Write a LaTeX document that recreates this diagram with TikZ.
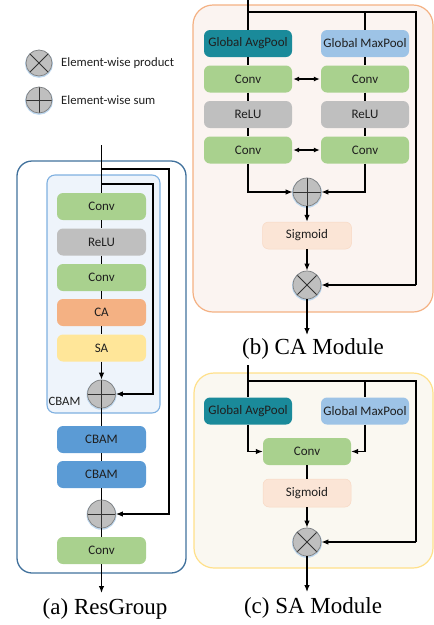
\documentclass[tikz,border=0pt]{standalone}
\usepackage{fontspec}
\setmainfont{Liberation Serif}
\setsansfont{Carlito}
\usetikzlibrary{arrows.meta,calc}
\definecolor{cgreen}{HTML}{A9D18E}
\definecolor{cgray}{HTML}{BFBFBF}
\definecolor{corange}{HTML}{F4B183}
\definecolor{cyellow}{HTML}{FFE699}
\definecolor{cblue}{HTML}{5B9BD5}
\definecolor{cteal}{HTML}{1A8A9A}
\definecolor{clblue}{HTML}{9DC3E6}
\definecolor{cpeach}{HTML}{FBE5D6}
\definecolor{cpeachb}{HTML}{F8D9C4}
\definecolor{cdarkblue}{HTML}{41719C}
\definecolor{cbamfill}{HTML}{EEF4FB}
\definecolor{cbamdraw}{HTML}{7FB0E0}
\definecolor{cafill}{HTML}{FBF4F1}
\definecolor{sadraw}{HTML}{FFE08A}
\definecolor{safill}{HTML}{FAF8F1}
\definecolor{circfill}{HTML}{BFBFBF}
\definecolor{circdraw}{HTML}{7F7F7F}
\definecolor{glow}{HTML}{BDD7EE}
\begin{document}
\begin{tikzpicture}[x=1pt,y=-1pt,
  blk/.style={rounded corners=6pt, minimum width=89pt, minimum height=27pt, inner sep=0pt,
    font=\sffamily\fontsize{13}{15}\selectfont, text=black!88},
  circ/.style={circle, draw=circdraw, fill=circfill, line width=0.7pt, minimum size=28pt, inner sep=0pt,
    preaction={draw=glow, line width=2pt, transform canvas={yshift=-0.8pt}}},
  prodc/.style={circ, path picture={\draw[line width=0.8pt, black!80]
     (path picture bounding box.north east) -- (path picture bounding box.south west)
     (path picture bounding box.north west) -- (path picture bounding box.south east);}},
  sumc/.style={circ, path picture={\draw[line width=0.8pt, black!80]
     (path picture bounding box.north) -- (path picture bounding box.south)
     (path picture bounding box.west) -- (path picture bounding box.east);}},
  conn/.style={line width=1.2pt, black},
  arr/.style={conn, -{Latex[length=7pt,width=5.5pt]}},
  darr/.style={conn, {Latex[length=6pt,width=5pt]}-{Latex[length=6pt,width=5pt]}},
  lgd/.style={font=\sffamily\fontsize{12.7}{15}\selectfont, text=black!88, anchor=west, inner sep=0pt},
  captxt/.style={font=\fontsize{23}{26}\selectfont, inner sep=0pt}
]
\useasboundingbox (0,0) rectangle (434,625);

% ---------- legend ----------
\node[prodc, minimum size=26pt] (lp) at (39,63) {};
\node[lgd] (lpt) at (61,63) {Element-wise product};
\node[sumc, minimum size=26pt] (ls) at (39,100) {};
\node[lgd] (lst) at (61,100) {Element-wise sum};

% ---------- (a) ResGroup ----------
\draw[cdarkblue, line width=1.3pt, rounded corners=15pt] (17,161) rectangle (186,573);
\draw[cbamdraw, fill=cbamfill, line width=1.1pt, rounded corners=8pt] (47,175) rectangle (160,413);

\coordinate (ain) at (101.5,145);
\node[blk, fill=cgreen] (r1) at (101.5,206.5) {Conv};
\node[blk, fill=cgray] (r2) at (101.5,242) {ReLU};
\node[blk, fill=cgreen] (r3) at (101.5,277.5) {Conv};
\node[blk, fill=corange] (r4) at (101.5,312.5) {CA};
\node[blk, fill=cyellow] (r5) at (101.5,348) {SA};
\node[sumc] (s1) at (101.5,394) {};
\node[lgd, anchor=center] (cbl) at (64.5,401) {CBAM};
\node[blk, fill=cblue] (r6) at (101.5,439.5) {CBAM};
\node[blk, fill=cblue] (r7) at (101.5,474.5) {CBAM};
\node[sumc] (s2) at (101.5,514) {};
\node[blk, fill=cgreen] (r8) at (101.5,550.5) {Conv};
\coordinate (aout) at (101.5,593);
\node[captxt] (la) at (105,609) {(a) ResGroup};

\coordinate (ao1) at (101.5,169);
\coordinate (ao2) at (169,169);
\coordinate (ao3) at (169,514);
\coordinate (ai1) at (101.5,184);
\coordinate (ai2) at (153,184);
\coordinate (ai3) at (153,394);

\draw[conn] (ain) -- (r1.north);
\draw[conn] (r1) -- (r2);
\draw[conn] (r2) -- (r3);
\draw[conn] (r3) -- (r4);
\draw[conn] (r4) -- (r5);
\draw[arr] (r5.south) -- (s1.north);
\draw[conn] (s1.south) -- (r6.north);
\draw[conn] (r6) -- (r7);
\draw[conn] (r7.south) -- (s2.north);
\draw[conn] (s2.south) -- (r8.north);
\draw[arr] (r8.south) -- (aout);
\draw[arr] (ao1) -- (ao2) -- (ao3) -- (s2.east);
\draw[arr] (ai1) -- (ai2) -- (ai3) -- (s1.east);

% ---------- (b) CA Module ----------
\draw[corange, fill=cafill, line width=1.2pt, rounded corners=20pt] (193,5) rectangle (433,312);

\coordinate (bin) at (248,0);
\coordinate (bj1) at (248,12);
\coordinate (bj2) at (365,12);
\coordinate (bj3) at (416,12);
\node[blk, fill=cteal, minimum width=88pt] (c1) at (248,43.5) {Global AvgPool};
\node[blk, fill=clblue, minimum width=88pt] (c2) at (365,43.5) {Global MaxPool};
\node[blk, fill=cgreen, minimum width=88pt] (c3) at (248,79) {Conv};
\node[blk, fill=cgreen, minimum width=88pt] (c4) at (365,79) {Conv};
\node[blk, fill=cgray, minimum width=88pt] (c5) at (248,114.5) {ReLU};
\node[blk, fill=cgray, minimum width=88pt] (c6) at (365,114.5) {ReLU};
\node[blk, fill=cgreen, minimum width=88pt] (c7) at (248,150) {Conv};
\node[blk, fill=cgreen, minimum width=88pt] (c8) at (365,150) {Conv};
\node[sumc] (cs) at (307,192) {};
\node[blk, fill=cpeach, draw=cpeachb, line width=0.5pt] (csig) at (307,235.5) {Sigmoid};
\node[prodc] (cp) at (307,285) {};
\coordinate (bout) at (307,335);
\node[captxt] (lb) at (313,349) {(b) CA Module};

\coordinate (bl) at (248,192);
\coordinate (br) at (365,192);
\coordinate (bs) at (416,285);

\draw[conn] (bin) -- (c1.north);
\draw[conn] (bj1) -- (bj3) -- (bs);
\draw[arr] (bs) -- (cp.east);
\draw[conn] (bj2) -- (c2.north);
\draw[conn] (c1) -- (c3);
\draw[conn] (c3) -- (c5);
\draw[conn] (c5) -- (c7);
\draw[conn] (c2) -- (c4);
\draw[conn] (c4) -- (c6);
\draw[conn] (c6) -- (c8);
\draw[darr, shorten <=1pt, shorten >=1pt] (c3.east) -- (c4.west);
\draw[darr, shorten <=1pt, shorten >=1pt] (c7.east) -- (c8.west);
\draw[arr] (c7.south) -- (bl) -- (cs.west);
\draw[arr] (c8.south) -- (br) -- (cs.east);
\draw[arr] (cs.south) -- (csig.north);
\draw[arr] (csig.south) -- (cp.north);
\draw[arr] (cp.south) -- (bout);

% ---------- (c) SA Module ----------
\draw[sadraw, fill=safill, line width=1.2pt, rounded corners=20pt] (194,373) rectangle (433,568);

\coordinate (cin) at (248,365);
\coordinate (cj1) at (248,381);
\coordinate (cj2) at (365,381);
\coordinate (cj3) at (416,381);
\node[blk, fill=cteal, minimum width=88pt] (d1) at (248,411) {Global AvgPool};
\node[blk, fill=clblue, minimum width=88pt] (d2) at (365,411) {Global MaxPool};
\node[blk, fill=cgreen, minimum width=88pt] (d3) at (307,451.5) {Conv};
\node[blk, fill=cpeach, draw=cpeachb, line width=0.5pt, minimum width=88pt, minimum height=28pt] (d4) at (307,493) {Sigmoid};
\node[prodc] (dp) at (307,542) {};
\coordinate (cout) at (307,592);
\node[captxt] (lc) at (313,608) {(c) SA Module};

\coordinate (cl) at (248,451.5);
\coordinate (cr) at (365,451.5);
\coordinate (cs2) at (416,542);

\draw[conn] (cin) -- (d1.north);
\draw[conn] (cj1) -- (cj3) -- (cs2);
\draw[arr] (cs2) -- (dp.east);
\draw[conn] (cj2) -- (d2.north);
\draw[arr] (d1.south) -- (cl) -- (d3.west);
\draw[arr] (d2.south) -- (cr) -- (d3.east);
\draw[conn] (d3) -- (d4);
\draw[arr] (d4.south) -- (dp.north);
\draw[arr] (dp.south) -- (cout);
\end{tikzpicture}
\end{document}
